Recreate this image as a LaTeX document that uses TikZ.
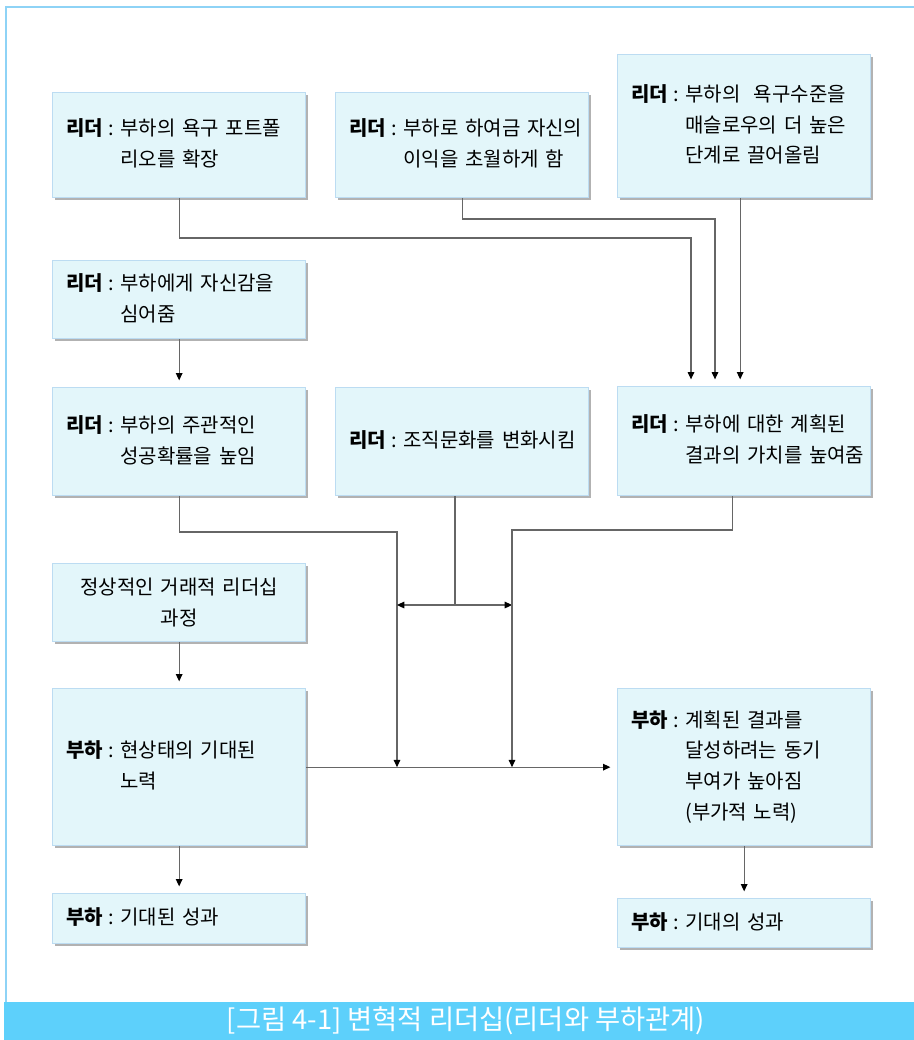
\documentclass[tikz,border=0pt]{standalone}
\usepackage{fontspec}
\setmainfont{Noto Sans CJK KR}
\usetikzlibrary{arrows.meta,shadows}

\definecolor{boxfill}{HTML}{E3F6FA}
\definecolor{boxline}{HTML}{BCDCF2}
\definecolor{framecol}{HTML}{8ED3F6}
\definecolor{bandcol}{HTML}{5DD0FB}

% who : text, with the lines after the colon kept flush
\newcommand{\says}[2]{\mbox{\textbf{#1}\hspace{0.3em}:\hspace{0.3em}\begin{tabular}[t]{@{}l@{}}#2\end{tabular}}}

\begin{document}
\begin{tikzpicture}[x=0.75pt, y=-0.75pt, every node/.style={font=\fontsize{15pt}{23pt}\selectfont}, >={Triangle[length=5.5pt,width=5pt,color=black]},
	bx/.style={draw=boxline, line width=1pt, fill=boxfill, anchor=north west, minimum width=189.75pt, minimum height=#1*0.75pt, text width=169.75pt, inner xsep=10pt, align=left, drop shadow={shadow xshift=2pt, shadow yshift=-2pt, fill=black, opacity=0.3}},
	link/.style={draw=black!60, line width=0.8pt},
	arr/.style={link, ->, shorten >=5pt}]
	\useasboundingbox (0,0) rectangle (914,1040);
	\fill[bandcol] (4,1002) rectangle (914,1040);
	\draw[framecol, line width=1.5pt] (5.5,1002) |- (914,6.5);
	\node[white, font=\fontsize{20.5pt}{22pt}\selectfont] (caption) at (466,1021) {[그림 4-1] 변혁적 리더십(리더와 부하관계)};

	\node[bx=105] (lFolio) at (52,92) {\says{리더}{부하의 욕구 포트폴\\리오를 확장}};
	\node[bx=105] (lSelf) at (335,92) {\says{리더}{부하로 하여금 자신의\\이익을 초월하게 함}};
	\node[bx=143] (lNeeds) at (617,54) {\says{리더}{부하의 \ 욕구수준을\\매슬로우의 더 높은\\단계로 끌어올림}};
	\node[bx=78] (lConf) at (52,260) {\says{리더}{부하에게 자신감을\\심어줌}};
	\node[bx=108] (lProb) at (52,387) {\says{리더}{부하의 주관적인\\성공확률을 높임}};
	\node[bx=108] (lCult) at (335,387) {\says{리더}{조직문화를 변화시킴}};
	\node[bx=109] (lValue) at (617,386) {\says{리더}{부하에 대한 계획된\\결과의 가치를 높여줌}};
	\node[bx=78, align=center] (tNormal) at (52,563) {정상적인 거래적 리더십\\과정};
	\node[bx=157] (bEffort) at (52,688) {\says{부하}{현상태의 기대된\\노력}};
	\node[bx=50] (bExpect) at (52,893) {\says{부하}{기대된 성과}};
	\node[bx=157] (bMotive) at (617,688) {\says{부하}{계획된 결과를\\달성하려는 동기\\부여가 높아짐\\(부가적 노력)}};
	\node[bx=49] (bExtra) at (617,898) {\says{부하}{기대의 성과}};

	\coordinate (tapA) at (691,238);
	\coordinate (tapB) at (715,219);
	\coordinate (colL) at (397,532);
	\coordinate (colR) at (512,530);
	\coordinate (hub) at (455,605);

	\draw[arr] (lFolio.south) |- (tapA) -- (tapA |- lValue.north);
	\draw[arr] (lSelf.south) |- (tapB) -- (tapB |- lValue.north);
	\draw[arr] ([xshift=-3pt]lNeeds.south) -- ([xshift=-3pt]lValue.north);
	\draw[arr] (lConf.south) -- (lProb.north);
	\draw[link,->] (lProb.south) |- (colL) -- (colL |- bEffort.east);
	\draw[link] (lCult.south -| hub) -- (hub);
	\draw[link,<->] (hub -| colL) -- (hub -| colR);
	\draw[link,->] ([xshift=-9pt]lValue.south) |- (colR) -- (colR |- bEffort.east);
	\draw[arr] (bEffort.east) -- (bMotive.west);
	\draw[arr] (tNormal.south) -- (bEffort.north);
	\draw[arr] (bEffort.south) -- (bExpect.north);
	\draw[arr] (bMotive.south) -- (bExtra.north);
\end{tikzpicture}
\end{document}
